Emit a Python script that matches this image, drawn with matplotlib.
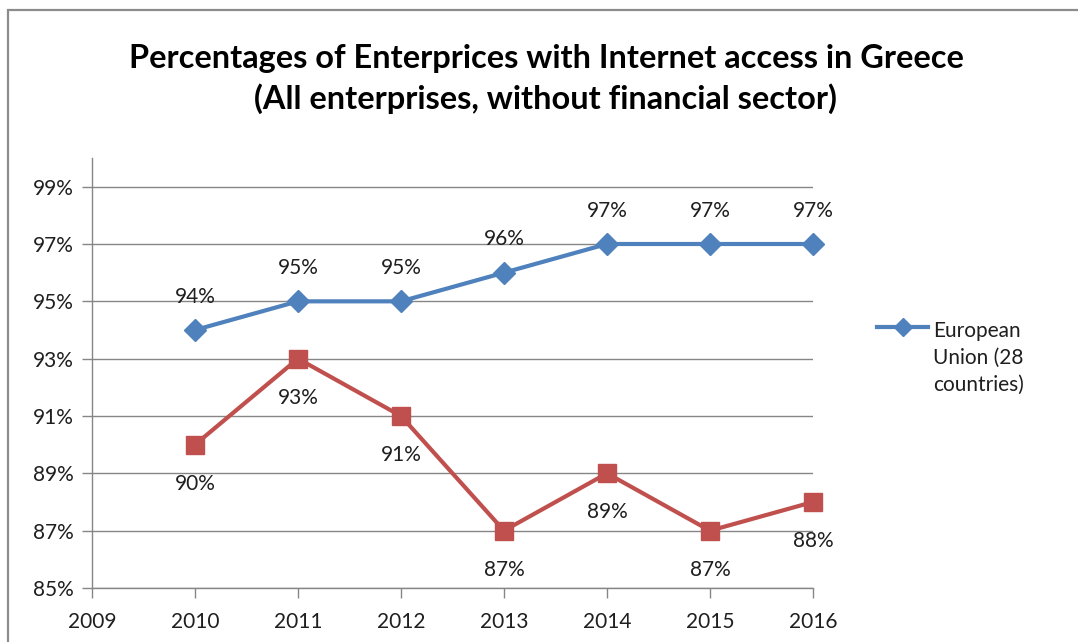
import matplotlib.pyplot as plt
from matplotlib.lines import Line2D
from matplotlib.patches import Rectangle

years = [2010, 2011, 2012, 2013, 2014, 2015, 2016]
eu_values = [94, 95, 95, 96, 97, 97, 97]
greece_values = [90, 93, 91, 87, 89, 87, 88]
y_ticks = [85, 87, 89, 91, 93, 95, 97, 99]
x_ticks = [2009, 2010, 2011, 2012, 2013, 2014, 2015, 2016]

title = "Percentages of Enterprices with Internet access in Greece\n(All enterprises, without financial sector)"
eu_label = "European\nUnion (28\ncountries)"

blue = "#4F81BD"
red = "#C0504D"
grid_grey = "#868686"
text_col = "#1f1f1f"

plt.rcParams["font.family"] = ["Lato", "DejaVu Sans"]

fig = plt.figure(figsize=(10.78, 6.42), dpi=100)
fig.patch.set_facecolor("white")

# chart frame (only left and top edges fall inside the image)
fig.patches.append(Rectangle((8 / 1078, -0.2), 1.5, (642 - 10) / 642 + 0.2,
                             transform=fig.transFigure, fill=False,
                             edgecolor="#8c8c8c", linewidth=1.6))

ax = fig.add_axes([92 / 1078, (642 - 588) / 642, (813 - 92) / 1078, (588 - 158) / 642])

ax.set_xlim(2009, 2016)
ax.set_ylim(85, 100)
ax.set_yticks(y_ticks)
ax.set_yticklabels([f"{v}%" for v in y_ticks])
ax.set_xticks(x_ticks)
ax.set_xticklabels([str(v) for v in x_ticks])

for s in ["top", "right"]:
    ax.spines[s].set_visible(False)
for s in ["left", "bottom"]:
    ax.spines[s].set_color(grid_grey)
    ax.spines[s].set_linewidth(1)

ax.tick_params(axis="both", direction="out", length=7, width=1, color=grid_grey,
               labelsize=15, labelcolor=text_col)
ax.tick_params(axis="x", pad=10)
ax.tick_params(axis="y", pad=6)

for v in y_ticks:
    ax.axhline(v, color=grid_grey, linewidth=1, zorder=1)

ax.plot(years, eu_values, color=blue, linewidth=3, marker="D", markersize=11,
        zorder=3, clip_on=False)
ax.plot(years, greece_values, color=red, linewidth=3, marker="s", markersize=13,
        zorder=3, clip_on=False)

for x, v in zip(years, eu_values):
    ax.annotate(f"{v}%", (x, v), xytext=(0, 24), textcoords="offset points",
                ha="center", va="center", fontsize=15, color=text_col)
for x, v in zip(years, greece_values):
    ax.annotate(f"{v}%", (x, v), xytext=(0, -28), textcoords="offset points",
                ha="center", va="center", fontsize=15, color=text_col)

fig.text(546 / 1078, (642 - 79) / 642, title, ha="center", va="center",
         fontsize=23.4, fontweight="bold", color="black", linespacing=1.42)

# legend entry for the EU series
ly = (642 - 327) / 642
fig.lines.append(Line2D([877 / 1078, 928 / 1078], [ly, ly], transform=fig.transFigure,
                        color=blue, linewidth=3))
fig.lines.append(Line2D([903 / 1078], [ly], transform=fig.transFigure, color=blue,
                        marker="D", markersize=9))
fig.text(933 / 1078, (642 - 358) / 642, eu_label, ha="left", va="center",
         fontsize=15, color=text_col, linespacing=1.45)

fig.savefig("out.png", dpi=100, facecolor="white")
